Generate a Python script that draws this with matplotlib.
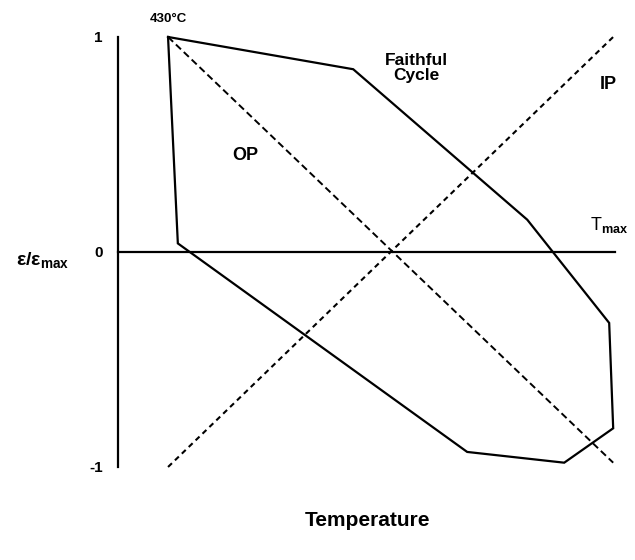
import matplotlib
matplotlib.use("Agg")
import matplotlib.pyplot as plt

plt.rcParams['font.family'] = ['Liberation Sans', 'DejaVu Sans']
plt.rcParams['mathtext.fontset'] = 'custom'
plt.rcParams['mathtext.rm'] = 'Liberation Sans:bold'
plt.rcParams['mathtext.it'] = 'Liberation Sans:bold'
plt.rcParams['mathtext.bf'] = 'Liberation Sans:bold'

# Normalised temperature (0 = 430°C, 1 = Tmax) and strain ratio
faithful_T = [0.0, 0.416, 0.807, 0.991, 1.0, 0.89, 0.672, 0.022, 0.0]
faithful_e = [1.0, 0.85, 0.15, -0.33, -0.82, -0.98, -0.93, 0.04, 1.0]
ip_T = [0.0, 1.0]
ip_e = [-1.0, 1.0]
op_T = [0.0, 1.0]
op_e = [1.0, -0.98]
ytick_vals = [1, 0, -1]
ytick_labels = ['1', '0', '-1']

fig = plt.figure(figsize=(6.35, 5.6), dpi=100)
ax = fig.add_axes([0, 0, 1, 1])
ax.set_xlim(-0.3775, 1.049)
ax.set_ylim(-1.4326, 1.172)

ax.plot(faithful_T, faithful_e, color='black', lw=1.6, solid_joinstyle='miter')
ax.plot(ip_T, ip_e, color='black', lw=1.5, dashes=(2.6, 2.0))
ax.plot(op_T, op_e, color='black', lw=1.4, dashes=(3.6, 2.0))

# Axes as spines
for s in ['top', 'right']:
    ax.spines[s].set_visible(False)
ax.spines['left'].set_position(('data', -0.112))
ax.spines['left'].set_bounds(-1, 1)
ax.spines['left'].set_linewidth(1.6)
ax.spines['bottom'].set_position(('data', 0))
ax.spines['bottom'].set_bounds(-0.112, 1.004)
ax.spines['bottom'].set_linewidth(1.6)
ax.set_xticks([])
ax.set_yticks(ytick_vals)
ax.set_yticklabels(ytick_labels, fontsize=11, fontweight='bold')
ax.tick_params(axis='y', length=0, pad=11)

ax.text(-0.282, -0.035, r'$\mathrm{ε/ε_{max}}$', fontsize=14,
        ha='center', va='center')
ax.text(0.0, 1.084, '430°C', fontsize=9.5, fontweight='bold', ha='center', va='center')
ax.text(0.173, 0.451, 'OP', fontsize=13, fontweight='bold', ha='center', va='center')
ax.text(0.557, 0.855, 'Faithful\nCycle', fontsize=12.5, fontweight='bold',
        ha='center', va='center', linespacing=1.0)
ax.text(0.989, 0.781, 'IP', fontsize=13, fontweight='bold', ha='center', va='center')
ax.text(0.948, 0.125, r'T$_{\mathrm{max}}$', fontsize=13, ha='left', va='center')
ax.text(0.447, -1.25, 'Temperature', fontsize=15, fontweight='bold',
        ha='center', va='center')

fig.savefig('out.png', dpi=100)
